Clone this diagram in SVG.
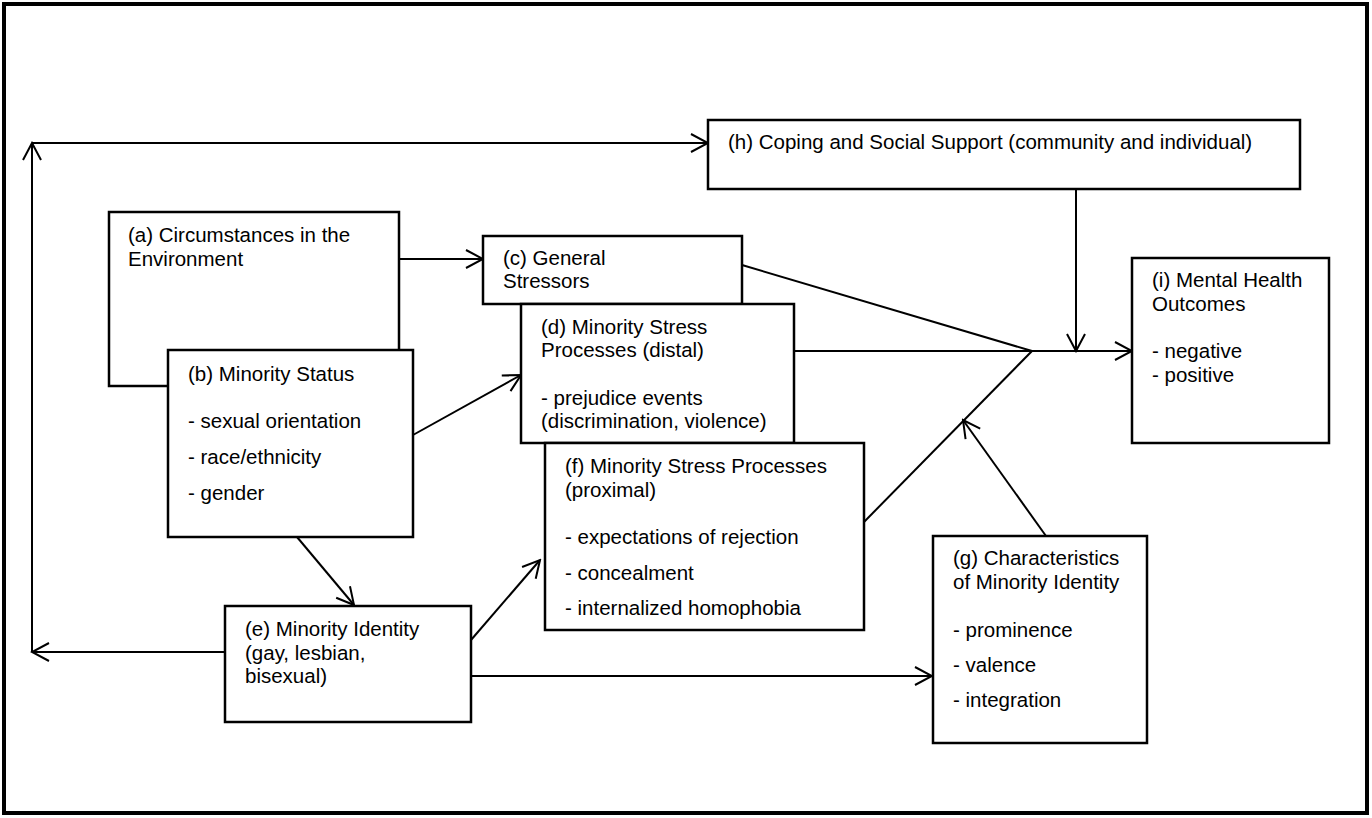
<svg xmlns="http://www.w3.org/2000/svg" width="1372" height="818" viewBox="0 0 1372 818">
<style>
.box{fill:#fff;stroke:#000;stroke-width:2.5}
.ln{fill:none;stroke:#000;stroke-width:2}
.ar{fill:none;stroke:#000;stroke-width:2;marker-end:url(#v)}
text{font-family:"Liberation Sans",Arial,sans-serif;font-size:20.5px;fill:#000}
</style>
<defs>
<marker id="v" markerUnits="userSpaceOnUse" markerWidth="22" markerHeight="22" viewBox="-20 -11 22 22" refX="0" refY="0" orient="auto">
<path d="M-17,-9 L0,0 L-17,9" fill="none" stroke="#000" stroke-width="2"/>
</marker>
</defs>
<rect x="0" y="0" width="1372" height="818" fill="#fff"/>
<rect x="4" y="4" width="1363" height="809" fill="none" stroke="#000" stroke-width="4"/>

<g id="connectors">
<path class="ar" d="M224,652 L32,652"/>
<path class="ar" d="M32,652 L32,143"/>
<path class="ar" d="M32,143 L708,143"/>
<path class="ar" d="M399,259 L483,259"/>
<path class="ar" d="M413,435 L521,375"/>
<path class="ar" d="M297,537 L354,605"/>
<path class="ar" d="M471,640 L540,560"/>
<path class="ar" d="M471,676 L932,676"/>
<path class="ln" d="M742,265 L1032,351"/>
<path class="ln" d="M794,351 L1032,351"/>
<path class="ln" d="M864,522 L1032,351"/>
<path class="ar" d="M1032,351 L1132,351"/>
<path class="ar" d="M1076,189 L1076,351"/>
<path class="ar" d="M1046,536 L963,420"/>
</g>

<g id="node-a">
<rect class="box" x="109" y="212" width="290" height="174"/>
<text x="128" y="242">(a) Circumstances in the</text>
<text x="128" y="266">Environment</text>
</g>
<g id="node-b">
<rect class="box" x="168" y="350" width="245" height="187"/>
<text x="188" y="381">(b) Minority Status</text>
<text x="188" y="428">- sexual orientation</text>
<text x="188" y="464">- race/ethnicity</text>
<text x="188" y="500">- gender</text>
</g>
<g id="node-c">
<rect class="box" x="483" y="236" width="259" height="68"/>
<text x="503" y="265">(c) General</text>
<text x="503" y="288">Stressors</text>
</g>
<g id="node-d">
<rect class="box" x="521" y="304" width="273" height="139"/>
<text x="541" y="334">(d) Minority Stress</text>
<text x="541" y="357">Processes (distal)</text>
<text x="541" y="405">- prejudice events</text>
<text x="541" y="428">(discrimination, violence)</text>
</g>
<g id="node-f">
<rect class="box" x="545" y="443" width="319" height="187"/>
<text x="565" y="473">(f) Minority Stress Processes</text>
<text x="565" y="497">(proximal)</text>
<text x="565" y="544">- expectations of rejection</text>
<text x="565" y="580">- concealment</text>
<text x="565" y="615">- internalized homophobia</text>
</g>
<g id="node-e">
<rect class="box" x="225" y="606" width="246" height="116"/>
<text x="245" y="636">(e) Minority Identity</text>
<text x="245" y="660">(gay, lesbian,</text>
<text x="245" y="683">bisexual)</text>
</g>
<g id="node-g">
<rect class="box" x="933" y="536" width="214" height="207"/>
<text x="953" y="565">(g) Characteristics</text>
<text x="953" y="589">of Minority Identity</text>
<text x="953" y="637">- prominence</text>
<text x="953" y="672">- valence</text>
<text x="953" y="707">- integration</text>
</g>
<g id="node-h">
<rect class="box" x="708" y="120" width="592" height="69"/>
<text x="728" y="149">(h) Coping and Social Support (community and individual)</text>
</g>
<g id="node-i">
<rect class="box" x="1132" y="258" width="197" height="185"/>
<text x="1152" y="287">(i) Mental Health</text>
<text x="1152" y="311">Outcomes</text>
<text x="1152" y="358">- negative</text>
<text x="1152" y="382">- positive</text>
</g>
</svg>
